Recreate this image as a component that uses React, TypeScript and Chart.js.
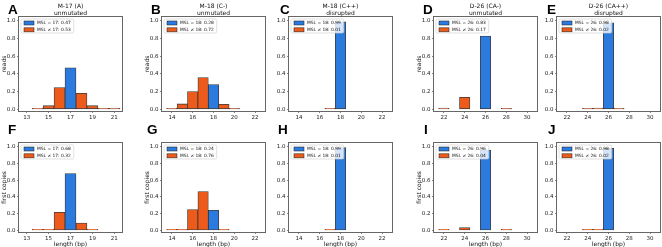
import React, { useEffect, useRef } from 'react';
import { Chart, registerables } from 'chart.js';

Chart.register(...registerables);

// ---------- data ----------
const LETTERS = ['A', 'B', 'C', 'D', 'E', 'F', 'G', 'H', 'I', 'J'];
const TITLE_TOP = ['M-17 (A)', 'M-18 (C-)', 'M-18 (C++)', 'D-26 (CA-)', 'D-26 (CA++)'];
const TITLE_BOTTOM = ['unmutated', 'unmutated', 'disrupted', 'unmutated', 'disrupted'];
const ROW_Y_LABELS = ['reads', 'first copies'];
const X_LABEL = 'length (bp)';
const COL_HAS_YLABEL = [true, true, false, true, false];

const MSL = [17, 18, 18, 26, 26];
const FIRST_BIN = [13, 14, 14, 22, 22];
const X_TICKS_M17 = [13, 15, 17, 19, 21];
const X_TICKS_M18 = [14, 16, 18, 20, 22];
const X_TICKS_D26 = [22, 24, 26, 28, 30];
const COL_X_TICKS = [X_TICKS_M17, X_TICKS_M18, X_TICKS_M18, X_TICKS_D26, X_TICKS_D26];
const X_MIN = [12.3, 13.05, 13.05, 21.05, 21.05];
const X_MAX = [21.7, 22.95, 22.95, 30.95, 30.95];
const Y_TICKS = [0, 0.2, 0.4, 0.6, 0.8, 1.0];

// share of MSL (blue) and non-MSL (orange), panels A..J
const SHARE_EQ = [0.47, 0.28, 0.99, 0.83, 0.98, 0.68, 0.24, 0.99, 0.96, 0.98];
const SHARE_NE = [0.53, 0.72, 0.01, 0.17, 0.02, 0.32, 0.76, 0.01, 0.04, 0.02];

// non-MSL length fractions per bin (starting at FIRST_BIN), panels A..J
const OTHER_A = [0, 0.004, 0.04, 0.245, 0, 0.18, 0.04, 0.005, 0.002];
const OTHER_B = [0.01, 0.06, 0.2, 0.36, 0, 0.055, 0.006, 0, 0];
const OTHER_C = [0, 0, 0, 0.006, 0, 0, 0, 0, 0];
const OTHER_D = [0.012, 0, 0.135, 0, 0, 0, 0.008, 0, 0];
const OTHER_E = [0, 0, 0.003, 0.012, 0, 0.003, 0, 0, 0];
const OTHER_F = [0, 0.002, 0.01, 0.215, 0, 0.087, 0.005, 0, 0];
const OTHER_G = [0.003, 0.01, 0.248, 0.463, 0, 0.012, 0, 0, 0];
const OTHER_H = [0, 0, 0, 0.006, 0, 0, 0, 0, 0];
const OTHER_I = [0.002, 0, 0.034, 0, 0, 0, 0.002, 0, 0];
const OTHER_J = [0, 0, 0.003, 0.012, 0, 0, 0, 0, 0];
const OTHER = [OTHER_A, OTHER_B, OTHER_C, OTHER_D, OTHER_E, OTHER_F, OTHER_G, OTHER_H, OTHER_I, OTHER_J];

// ---------- style / layout ----------
const BLUE = '#2b7bde';
const ORANGE = '#ec5a1c';
const EDGE = 'rgba(25,25,25,0.85)';
const FRAME = '#666666';
const FONT = '"DejaVu Sans", sans-serif';
const FRAME_LEFT = [19, 162, 289, 434, 557];
const FRAME_W = 103;
const ROW_CANVAS_TOP = [0, 122];
const ROW_CANVAS_H = [122, 127];
const ROW_PAD_TOP = [17, 21];
const ROW_FRAME_H = [94, 89];
const LETTER_X = [[8, 151, 280, 423, 547], [8, 147, 278, 424, 548]];
const LETTER_BASE = [13.5, 134];

function Panel({ idx }: { idx: number }) {
  const ref = useRef<HTMLCanvasElement | null>(null);
  const row = idx < 5 ? 0 : 1;
  const col = idx % 5;
  const x0 = FRAME_LEFT[col] - 19;
  const y0 = ROW_CANVAS_TOP[row];
  const w = 19 + FRAME_W + 2;
  const h = ROW_CANVAS_H[row];

  useEffect(() => {
    const canvas = ref.current;
    if (!canvas) return;
    const bins = OTHER[idx].map((_, i) => FIRST_BIN[col] + i);
    const eqLabel = `MSL = ${MSL[col]}: ${SHARE_EQ[idx].toFixed(2)}`;
    const neLabel = `MSL \u2260 ${MSL[col]}: ${SHARE_NE[idx].toFixed(2)}`;
    const xAxisH = h - ROW_PAD_TOP[row] - ROW_FRAME_H[row];

    const decor = {
      id: 'decor',
      afterDatasetsDraw(chart: any) {
        const ctx = chart.ctx as CanvasRenderingContext2D;
        const a = chart.chartArea;
        ctx.save();
        // frame
        ctx.strokeStyle = FRAME;
        ctx.lineWidth = 1;
        ctx.strokeRect(a.left - 0.5, a.top - 0.5, a.right - a.left + 1, a.bottom - a.top + 1);
        // legend
        ctx.font = `4.4px ${FONT}`;
        const tw = Math.max(ctx.measureText(eqLabel).width, ctx.measureText(neLabel).width);
        const lx = a.left + 2;
        const ly = a.top + 2;
        const lw = 16 + tw + 3;
        const lh = 14;
        ctx.beginPath();
        (ctx as any).roundRect(lx, ly, lw, lh, 1.5);
        ctx.fillStyle = 'rgba(255,255,255,0.8)';
        ctx.fill();
        ctx.strokeStyle = 'rgba(205,205,205,0.9)';
        ctx.lineWidth = 0.7;
        ctx.stroke();
        const items = [
          { c: BLUE, t: eqLabel },
          { c: ORANGE, t: neLabel },
        ];
        items.forEach((it, k) => {
          const cy = ly + 4 + k * 6.8;
          ctx.fillStyle = it.c;
          ctx.fillRect(lx + 3, cy - 2, 10, 4);
          ctx.strokeStyle = EDGE;
          ctx.lineWidth = 0.6;
          ctx.strokeRect(lx + 3, cy - 2, 10, 4);
          ctx.fillStyle = '#111';
          ctx.textAlign = 'left';
          ctx.textBaseline = 'middle';
          ctx.fillText(it.t, lx + 16, cy + 0.3);
        });
        // titles
        ctx.fillStyle = '#111';
        ctx.textAlign = 'center';
        ctx.textBaseline = 'middle';
        ctx.font = `6px ${FONT}`;
        const cx = (a.left + a.right) / 2;
        if (row === 0) {
          ctx.fillText(TITLE_TOP[col], cx, 6);
          ctx.fillText(TITLE_BOTTOM[col], cx, 13.3);
        }
        // panel letter
        ctx.font = `bold 13.5px "Liberation Sans", Arial, sans-serif`;
        ctx.textAlign = 'left';
        ctx.textBaseline = 'alphabetic';
        ctx.fillStyle = '#000';
        ctx.fillText(LETTERS[idx], LETTER_X[row][col] - x0, LETTER_BASE[row] - y0);
        ctx.restore();
      },
    };

    const barCommon = {
      borderColor: EDGE,
      borderWidth: 0.8,
      borderSkipped: false as const,
      grouped: false,
      barPercentage: 1,
      categoryPercentage: 1,
      minBarLength: 1,
    };

    const chart = new Chart(canvas, {
      type: 'bar',
      data: {
        datasets: [
          {
            ...barCommon,
            label: eqLabel,
            data: [{ x: MSL[col], y: SHARE_EQ[idx] }],
            backgroundColor: BLUE,
          },
          {
            ...barCommon,
            label: neLabel,
            data: bins.map((b, i) => ({ x: b, y: OTHER[idx][i] > 0 ? OTHER[idx][i] : null })),
            backgroundColor: ORANGE,
          },
        ] as any,
      },
      options: {
        animation: false,
        responsive: false,
        devicePixelRatio: 1,
        layout: { padding: { left: 0, top: ROW_PAD_TOP[row], right: 2, bottom: 0 } },
        plugins: {
          legend: { display: false },
          title: { display: false },
          tooltip: { enabled: false },
        },
        scales: {
          x: {
            type: 'linear',
            min: X_MIN[col],
            max: X_MAX[col],
            bounds: 'data',
            offset: false,
            afterFit: (s: any) => {
              s.height = xAxisH;
            },
            afterBuildTicks: (s: any) => {
              s.ticks = COL_X_TICKS[col].map((v) => ({ value: v }));
            },
            ticks: {
              autoSkip: false,
              maxRotation: 0,
              minRotation: 0,
              padding: 1,
              color: '#222',
              font: { family: FONT, size: 5.5 },
              callback: (v: any) => String(v),
            },
            grid: {
              display: true,
              offset: false,
              drawOnChartArea: false,
              drawTicks: true,
              tickLength: 2,
              color: FRAME,
              lineWidth: 0.8,
            },
            border: { display: false },
            title: {
              display: row === 1,
              text: X_LABEL,
              color: '#111',
              font: { family: FONT, size: 6 },
              padding: { top: 0, bottom: 0.6 },
            },
          },
          y: {
            type: 'linear',
            min: -0.02,
            max: 1.045,
            bounds: 'data',
            afterFit: (s: any) => {
              s.width = 19;
            },
            afterBuildTicks: (s: any) => {
              s.ticks = Y_TICKS.map((v) => ({ value: v }));
            },
            ticks: {
              autoSkip: false,
              padding: 1.5,
              color: '#222',
              font: { family: FONT, size: 5.5 },
              callback: (v: any) => Number(v).toFixed(1),
            },
            grid: {
              display: true,
              drawOnChartArea: false,
              drawTicks: true,
              tickLength: 2,
              color: FRAME,
              lineWidth: 0.8,
            },
            border: { display: false },
            title: {
              display: COL_HAS_YLABEL[col],
              text: ROW_Y_LABELS[row],
              color: '#111',
              font: { family: FONT, size: 6 },
              padding: { top: 0.4, bottom: 0 },
            },
          },
        },
      } as any,
      plugins: [decor],
    });
    return () => chart.destroy();
  }, []);

  return (
    <canvas
      ref={ref}
      width={w}
      height={h}
      style={{ position: 'absolute', left: x0, top: y0, width: w, height: h }}
    />
  );
}

export default function App() {
  return (
    <div
      style={{
        position: 'absolute',
        left: 0,
        top: 0,
        width: 662,
        height: 247,
        background: '#fff',
        overflow: 'hidden',
      }}
    >
      {LETTERS.map((_, i) => (
        <Panel key={i} idx={i} />
      ))}
    </div>
  );
}
